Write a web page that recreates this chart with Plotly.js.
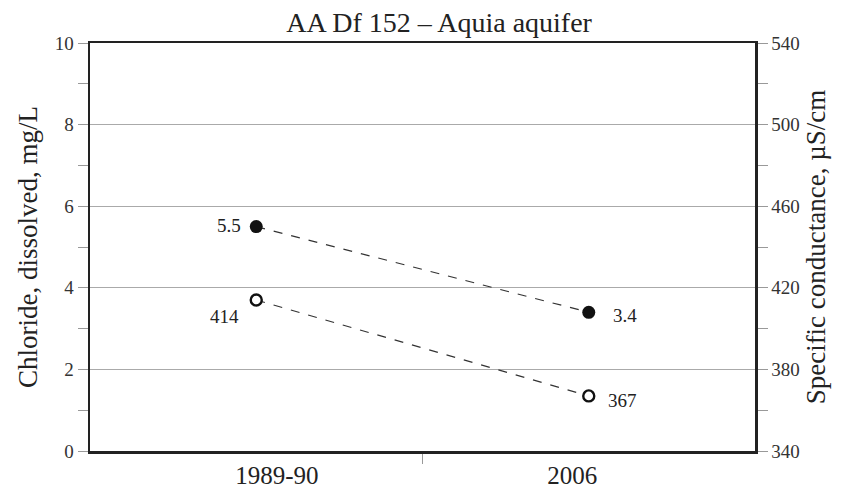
<!DOCTYPE html>
<html>
<head>
<meta charset="utf-8">
<script src="https://cdn.plot.ly/plotly-3.0.1.min.js"></script>
<style>html,body{margin:0;padding:0;background:#fff;}#chart{width:844px;height:489px;}</style>
</head>
<body>
<div id="chart"></div>
<script>
var categories = ["1989-90", "2006"];
var catPos = [0.5, 1.5];
var chloride = [5.5, 3.4];
var conductance = [414, 367];
var chlorideLabels = ["5.5", "3.4"];
var conductanceLabels = ["414", "367"];

var font = "Liberation Serif, Times New Roman, serif";

var traces = [
  {
    x: catPos, y: chloride, type: "scatter", mode: "lines+markers",
    line: {color: "#333", width: 1.2, dash: "dash"},
    marker: {color: "#111", size: 13, symbol: "circle"},
    hoverinfo: "skip", xaxis: "x", yaxis: "y"
  },
  {
    x: catPos, y: conductance, type: "scatter", mode: "lines+markers",
    line: {color: "#333", width: 1.2, dash: "dash"},
    marker: {color: "#fff", size: 11, symbol: "circle", line: {color: "#111", width: 2.4}},
    hoverinfo: "skip", xaxis: "x", yaxis: "y2"
  }
];

var annotations = [
  {x: catPos[0], y: chloride[0], xref: "x", yref: "y", text: chlorideLabels[0], showarrow: false, xshift: -27, yshift: 1},
  {x: catPos[1], y: chloride[1], xref: "x", yref: "y", text: chlorideLabels[1], showarrow: false, xshift: 36, yshift: -3},
  {x: catPos[0], y: conductance[0], xref: "x", yref: "y2", text: conductanceLabels[0], showarrow: false, xshift: -32, yshift: -16},
  {x: catPos[1], y: conductance[1], xref: "x", yref: "y2", text: conductanceLabels[1], showarrow: false, xshift: 34, yshift: -5}
].map(function(a){ a.font = {family: font, size: 19, color: "#222"}; return a; });

var layout = {
  width: 844, height: 489,
  margin: {l: 90, r: 89, t: 43, b: 38},
  paper_bgcolor: "#fff", plot_bgcolor: "#fff",
  showlegend: false,
  font: {family: font, color: "#222"},
  title: {text: "AA Df 152 – Aquia aquifer", font: {family: font, size: 28, color: "#222"},
          xref: "paper", x: 0.525, xanchor: "center", yref: "container", y: 0.955, yanchor: "middle"},
  xaxis: {
    range: [0, 2], tickmode: "array", tickvals: [0.562, 1.45], ticktext: categories,
    ticks: "", showgrid: false, zeroline: false,
    showline: true, linecolor: "#222", linewidth: 2.5, mirror: true,
    tickfont: {family: font, size: 25, color: "#222"},
    minor: {tickmode: "array", tickvals: [1], ticks: "outside", ticklen: 10, tickcolor: "#999", tickwidth: 1, showgrid: false}
  },
  yaxis: {
    range: [0, 10], tickmode: "linear", tick0: 0, dtick: 2,
    ticks: "outside", ticklen: 10, tickcolor: "#999", tickwidth: 1,
    showgrid: true, gridcolor: "#aaa", gridwidth: 1, zeroline: false,
    showline: true, linecolor: "#222", linewidth: 2.5,
    tickfont: {family: font, size: 19, color: "#333"},
    title: {text: "Chloride, dissolved, mg/L", font: {family: font, size: 27, color: "#222"}, standoff: 10},
    minor: {tick0: 0, dtick: 1, ticks: "outside", ticklen: 10, tickcolor: "#999", tickwidth: 1, showgrid: false}
  },
  yaxis2: {
    range: [340, 540], tickmode: "linear", tick0: 340, dtick: 40,
    overlaying: "y", side: "right",
    ticks: "outside", ticklen: 10, tickcolor: "#999", tickwidth: 1,
    showgrid: false, zeroline: false,
    showline: true, linecolor: "#222", linewidth: 2.5,
    tickfont: {family: font, size: 19, color: "#333"},
    title: {text: "Specific conductance, µS/cm", font: {family: font, size: 27, color: "#222"}, standoff: 8},
    minor: {tick0: 340, dtick: 20, ticks: "outside", ticklen: 10, tickcolor: "#999", tickwidth: 1, showgrid: false}
  },
  annotations: annotations
};

Plotly.newPlot("chart", traces, layout, {staticPlot: true, displayModeBar: false});
</script>
</body>
</html>
